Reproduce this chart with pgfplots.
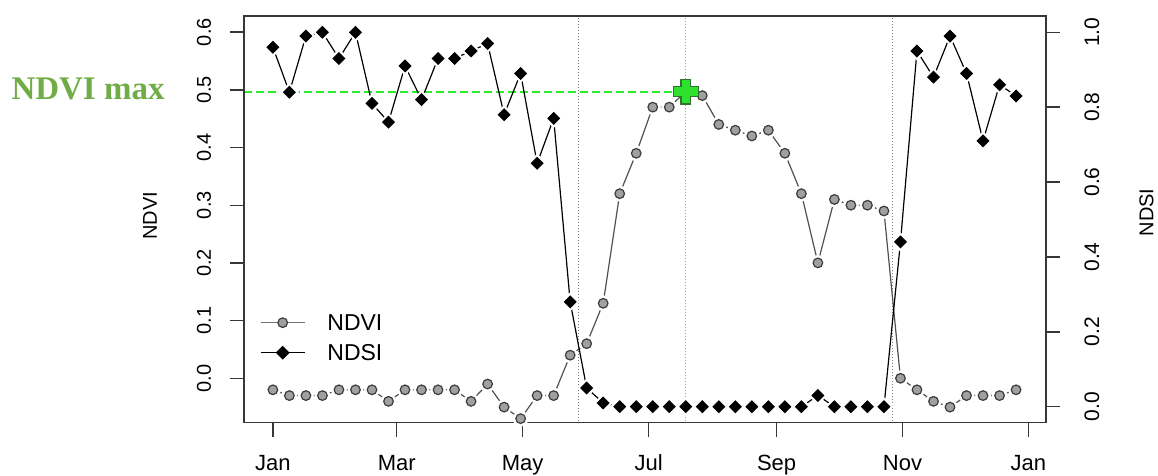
\documentclass[border=0pt]{standalone}
\usepackage{pgfplots}
\pgfplotsset{compat=1.18}
\usepackage{pgfplotstable}
\usepackage{fontspec}
\setmainfont{Liberation Sans}
\newfontfamily\serifbold{Liberation Serif}

\definecolor{ndvifill}{RGB}{160,160,160}
\definecolor{ndviedge}{RGB}{60,60,60}
\definecolor{ndviline}{RGB}{80,80,80}
\definecolor{limegreen}{RGB}{45,235,45}
\definecolor{crossfill}{RGB}{45,225,45}
\definecolor{crossedge}{RGB}{50,115,50}
\definecolor{labelgreen}{RGB}{112,173,71}
\definecolor{boxcol}{RGB}{55,55,55}

\pgfdeclareplotmark{fatplus}{%
 \pgfpathmoveto{\pgfqpoint{-.38\pgfplotmarksize}{\pgfplotmarksize}}%
 \pgfpathlineto{\pgfqpoint{.38\pgfplotmarksize}{\pgfplotmarksize}}%
 \pgfpathlineto{\pgfqpoint{.38\pgfplotmarksize}{.38\pgfplotmarksize}}%
 \pgfpathlineto{\pgfqpoint{\pgfplotmarksize}{.38\pgfplotmarksize}}%
 \pgfpathlineto{\pgfqpoint{\pgfplotmarksize}{-.38\pgfplotmarksize}}%
 \pgfpathlineto{\pgfqpoint{.38\pgfplotmarksize}{-.38\pgfplotmarksize}}%
 \pgfpathlineto{\pgfqpoint{.38\pgfplotmarksize}{-\pgfplotmarksize}}%
 \pgfpathlineto{\pgfqpoint{-.38\pgfplotmarksize}{-\pgfplotmarksize}}%
 \pgfpathlineto{\pgfqpoint{-.38\pgfplotmarksize}{-.38\pgfplotmarksize}}%
 \pgfpathlineto{\pgfqpoint{-\pgfplotmarksize}{-.38\pgfplotmarksize}}%
 \pgfpathlineto{\pgfqpoint{-\pgfplotmarksize}{.38\pgfplotmarksize}}%
 \pgfpathlineto{\pgfqpoint{-.38\pgfplotmarksize}{.38\pgfplotmarksize}}%
 \pgfpathclose
 \pgfusepathqfillstroke
}

\pgfplotstableread{
day ndvi ndsi
1   -0.02  0.96
9   -0.03  0.84
17  -0.03  0.99
25  -0.03  1.00
33  -0.02  0.93
41  -0.02  1.00
49  -0.02  0.81
57  -0.04  0.76
65  -0.02  0.91
73  -0.02  0.82
81  -0.02  0.93
89  -0.02  0.93
97  -0.04  0.95
105 -0.01  0.97
113 -0.05  0.78
121 -0.07  0.89
129 -0.03  0.65
137 -0.03  0.77
145  0.04  0.28
153  0.06  0.05
161  0.13  0.01
169  0.32  0.00
177  0.39  0.00
185  0.47  0.00
193  0.47  0.00
201  0.497 0.00
209  0.49  0.00
217  0.44  0.00
225  0.43  0.00
233  0.42  0.00
241  0.43  0.00
249  0.39  0.00
257  0.32  0.00
265  0.20  0.03
273  0.31  0.00
281  0.30  0.00
289  0.30  0.00
297  0.29  0.00
305  0.00  0.44
313 -0.02  0.95
321 -0.04  0.88
329 -0.05  0.99
337 -0.03  0.89
345 -0.03  0.71
353 -0.03  0.86
361 -0.02  0.83
}\data

\begin{document}
\begin{tikzpicture}
\begin{axis}[
  at={(0,0)}, anchor=south west,
  scale only axis, width=401pt, height=203.35pt,
  xmin=-13, xmax=375.5, ymin=-0.077, ymax=0.628,
  axis on top,
  axis line style={boxcol, line width=0.8pt},
  xtick={1,61,122,183,245,306,367},
  xticklabels={Jan,Mar,May,Jul,Sep,Nov,Jan},
  xtick pos=bottom, ytick pos=left,
  ytick={0,0.1,0.2,0.3,0.4,0.5,0.6},
  tick align=outside,
  major tick length=7pt,
  tick style={boxcol, line width=0.7pt},
  /pgf/number format/assume math mode=true,
  yticklabel style={/pgf/number format/fixed, /pgf/number format/fixed zerofill,
    /pgf/number format/precision=1, xshift=-9.5pt, rotate=90, anchor=base,
    font=\fontsize{10}{12}\selectfont},
  xticklabel style={yshift=-17pt, anchor=base, font=\fontsize{11}{13}\selectfont},
  legend style={draw=none, fill=none, inner sep=0pt, outer sep=0pt,
    at={(rel axis cs:0,0)}, anchor=south west, xshift=8pt, yshift=31pt,
    row sep=7pt, column sep=11pt,
    nodes={inner sep=0pt, text height=8pt, text depth=0pt},
    font=\fontsize{11.5}{13}\selectfont},
  legend cell align=left,
  legend image code/.code={\draw[mark repeat=2, mark phase=2, #1] plot coordinates {(0pt,0pt) (11pt,0pt) (22pt,0pt)};},
]
% reference lines
\addplot[gray, densely dotted, line width=0.5pt, forget plot] coordinates {(149,-0.1) (149,0.7)};
\addplot[gray!70, densely dotted, line width=0.5pt, forget plot] coordinates {(201,-0.1) (201,0.7)};
\addplot[gray, densely dotted, line width=0.5pt, forget plot] coordinates {(301,-0.1) (301,0.7)};
\addplot[limegreen, dash pattern=on 4pt off 2pt, line width=1pt, forget plot] coordinates {(-13,0.497) (201,0.497)};
% NDVI
\addplot[ndviline, line width=0.6pt, forget plot] table[x=day, y=ndvi]{\data};
\addplot[only marks, mark=*, mark size=3.7pt, mark options={draw=white, fill=white}, forget plot] table[x=day, y=ndvi]{\data};
\addplot[only marks, mark=*, mark size=2.4pt, mark options={draw=ndviedge, fill=ndvifill, line width=0.6pt}, forget plot] table[x=day, y=ndvi]{\data};
% NDVI max cross
\addplot[only marks, mark=fatplus, mark size=6.2pt, mark options={draw=crossedge, fill=crossfill, line width=0.6pt}, forget plot] coordinates {(201,0.497)};
\addlegendimage{ndviline!80, line width=0.6pt, mark=*, mark size=2.4pt, mark options={draw=ndviedge, fill=ndvifill, line width=0.6pt}}
\addlegendentry{NDVI}
\addlegendimage{black, line width=0.7pt, mark=square*, mark size=2.1pt, mark options={rotate=45}}
\addlegendentry{NDSI}
\end{axis}

\begin{axis}[
  at={(0,0)}, anchor=south west,
  scale only axis, width=401pt, height=203.35pt,
  xmin=-13, xmax=375.5, ymin=-0.0427, ymax=1.0435,
  axis x line=none, axis y line*=right,
  axis line style={boxcol, line width=1.1pt},
  ytick={0,0.2,0.4,0.6,0.8,1.0},
  tick align=outside,
  major tick length=7pt,
  tick style={boxcol, line width=0.7pt},
  /pgf/number format/assume math mode=true,
  yticklabel style={/pgf/number format/fixed, /pgf/number format/fixed zerofill,
    /pgf/number format/precision=1, xshift=19.5pt, rotate=90, anchor=base,
    font=\fontsize{10.5}{12}\selectfont},
]
\addplot[black, line width=0.6pt] table[x=day, y=ndsi]{\data};
\addplot[only marks, mark=square*, mark size=3.2pt, mark options={draw=white, fill=white, rotate=45}] table[x=day, y=ndsi]{\data};
\addplot[only marks, mark=square*, mark size=2.1pt, mark options={draw=black, fill=black, rotate=45}] table[x=day, y=ndsi]{\data};
\end{axis}

\node[rotate=90, font=\fontsize{10}{12}\selectfont] at (-47pt,103.5pt) {NDVI};
\node[rotate=90, font=\fontsize{10}{12}\selectfont] at (451.3pt,105.1pt) {NDSI};
\node[anchor=base east, inner sep=0pt, text=labelgreen, font=\serifbold\bfseries\fontsize{16.5}{19}\selectfont] at (-39.5pt,161.35pt) {NDVI max};

\pgfresetboundingbox
\path[use as bounding box] (-122pt,-26.65pt) rectangle (457pt,211.35pt);
\end{tikzpicture}
\end{document}
